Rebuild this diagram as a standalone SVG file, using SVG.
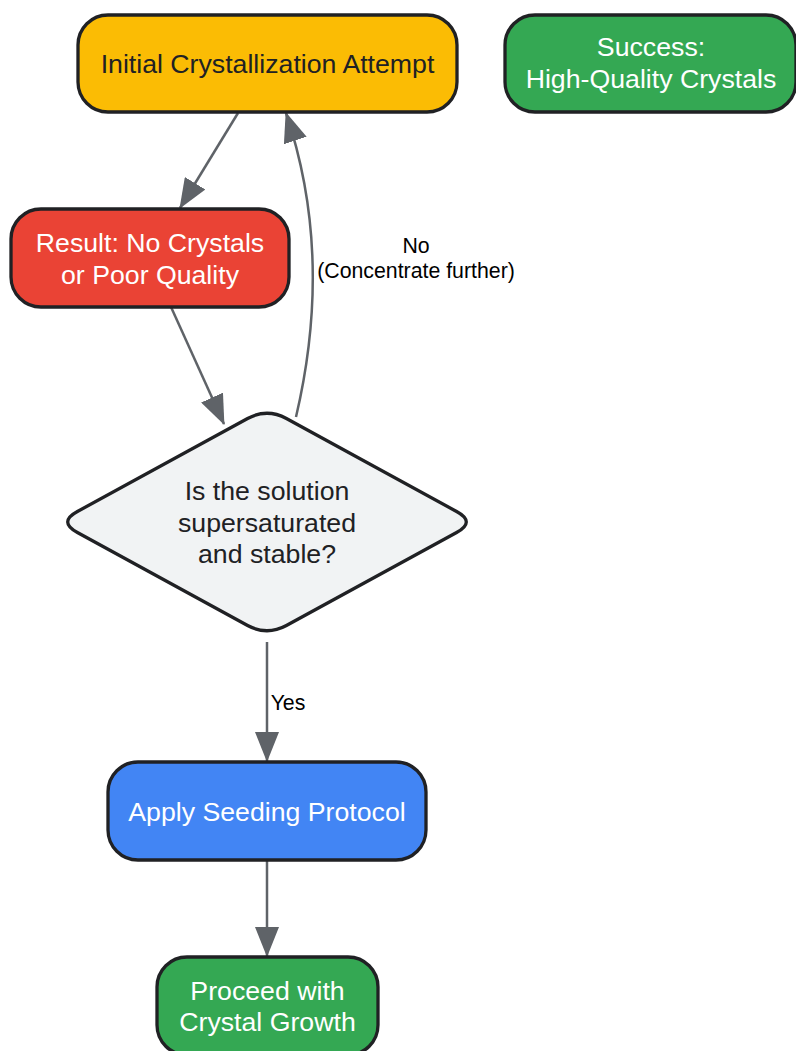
<svg xmlns="http://www.w3.org/2000/svg" width="796" height="1051" viewBox="0 0 796 1051">
  <style>
    .node { stroke: #202124; stroke-width: 3.3; }
    .t { font-family: "Liberation Sans", Arial, sans-serif; font-size: 26.7px; text-anchor: middle; }
    .dark { fill: #202124; }
    .light { fill: #ffffff; }
    .edge { fill: none; stroke: #5f6368; stroke-width: 2.5; }
    .lbl { font-family: "Liberation Sans", Arial, sans-serif; font-size: 21.3px; fill: #000000; text-anchor: middle; }
  </style>
  <defs>
    <marker id="arr" markerUnits="userSpaceOnUse" viewBox="0 0 30 24" markerWidth="30" markerHeight="24" refX="29" refY="12" orient="auto">
      <path d="M0,0 L30,12 L0,24 Z" fill="#5f6368"/>
    </marker>
  </defs>
  <rect width="796" height="1051" fill="#ffffff"/>

  <g id="edges">
    <line class="edge" x1="238" y1="113" x2="180" y2="208" marker-end="url(#arr)"/>
    <line class="edge" x1="171" y1="307" x2="224" y2="424" marker-end="url(#arr)"/>
    <path class="edge" d="M296,417 Q334,255 286,113" marker-end="url(#arr)"/>
    <line class="edge" x1="267" y1="642" x2="267" y2="761" marker-end="url(#arr)"/>
    <line class="edge" x1="267" y1="861" x2="267" y2="956" marker-end="url(#arr)"/>
    <text class="lbl" x="416" y="253">No</text>
    <text class="lbl" x="416" y="278">(Concentrate further)</text>
    <text class="lbl" x="288" y="710">Yes</text>
  </g>

  <g id="initial">
    <rect class="node" x="78" y="15" width="379" height="97" rx="30" fill="#fbbc04"/>
    <text class="t dark" x="267.5" y="73">Initial Crystallization Attempt</text>
  </g>

  <g id="success">
    <rect class="node" x="505" y="15" width="291" height="97" rx="30" fill="#34a853"/>
    <text class="t light" x="651" y="56">Success:</text>
    <text class="t light" x="651" y="88">High-Quality Crystals</text>
  </g>

  <g id="result">
    <rect class="node" x="11" y="209" width="278" height="98" rx="30" fill="#ea4335"/>
    <text class="t light" x="150" y="252">Result: No Crystals</text>
    <text class="t light" x="150" y="283.5">or Poor Quality</text>
  </g>

  <g id="decision">
    <path class="node" fill="#f1f3f4" d="M247.6,418.5 Q267,408 286.4,418.5 L456.6,511.5 Q476,522 456.6,532.5 L286.4,625.5 Q267,636 247.6,625.5 L77.4,532.5 Q58,522 77.4,511.5 Z"/>
    <text class="t dark" x="267" y="500">Is the solution</text>
    <text class="t dark" x="267" y="531.5">supersaturated</text>
    <text class="t dark" x="267" y="563">and stable?</text>
  </g>

  <g id="seeding">
    <rect class="node" x="108" y="762" width="318" height="98" rx="30" fill="#4285f4"/>
    <text class="t light" x="267" y="821">Apply Seeding Protocol</text>
  </g>

  <g id="growth">
    <rect class="node" x="157" y="957" width="221" height="98" rx="30" fill="#34a853"/>
    <text class="t light" x="267.5" y="999.5">Proceed with</text>
    <text class="t light" x="267.5" y="1031">Crystal Growth</text>
  </g>
</svg>
